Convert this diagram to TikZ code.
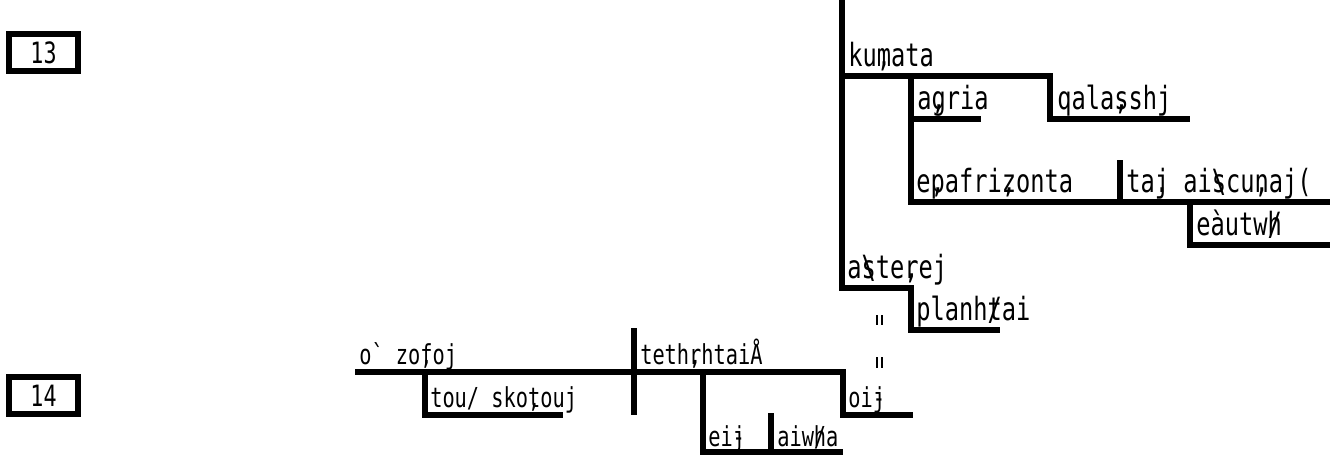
\documentclass[tikz,border=0pt]{standalone}
\usepackage{fontspec}
\newfontfamily\gr{DejaVu Sans Mono}[FakeStretch=0.74]
\newcommand\ovm[1]{\makebox[0pt][l]{#1}}
\begin{document}
\begin{tikzpicture}[x=0.75pt,y=-0.75pt,
  ln/.style={line width=4.5pt},
  bars/.style={line width=1.5pt},
  lbl/.style={inner sep=0pt,anchor=base west,font=\gr\fontsize{24pt}{28pt}\selectfont},
  lblb/.style={lbl,font=\gr\fontsize{20.6pt}{24pt}\selectfont},
  numbox/.style={draw,line width=4.5pt,minimum width=51.75pt,minimum height=27.75pt,inner sep=0pt,font=\gr\fontsize{22pt}{26pt}\selectfont}]
\useasboundingbox (0,0) rectangle (1330,455);
% verse numbers
\node[numbox] (n13) at (43.5,52.5) {13};
\node[numbox] (n14) at (43.5,395.5) {14};
% ---- verse 13 ----
\coordinate (top) at (842,0);
\draw[ln] (top) -- (842,288) -- (911,288) -- (911,330) -- (1000,330);
\draw[ln] (842,76) -- (1050,76) -- (1050,119) -- (1190,119);
\draw[ln] (911,76) -- (911,202) -- (1330,202);
\draw[ln] (911,119) -- (981,119);
\draw[ln] (1120,160) -- (1120,202);
\draw[ln] (1190,202) -- (1190,245) -- (1330,245);
\node[lbl] (kumata) at (848,66) {ku\ovm{,}mata};
\node[lbl] (agria) at (917,109) {a\ovm{,}gria};
\node[lbl] (qal) at (1057,109) {qala\ovm{,}sshj};
\node[lbl] (epa) at (916,192) {e\ovm{,}pafri\ovm{,}zonta};
\node[lbl] (taj) at (1126,192) {ta\ovm{.}j ai\ovm{\textbackslash}scu\ovm{,}naj(};
\node[lbl] (eau) at (1196,235) {e\ovm{`}autw\ovm{/}h};
\node[lbl] (ast) at (847,278) {a\ovm{\textbackslash}ste\ovm{,}rej};
\node[lbl] (pla) at (916,320) {planh\ovm{/}tai};
% equality marks
\draw[bars] (877,315) -- (877,325) (882,315) -- (882,325);
\draw[bars] (877,357) -- (877,368) (882,357) -- (882,368);
% ---- verse 14 ----
\draw[ln] (355,372) -- (843,372) -- (843,415) -- (913,415);
\draw[ln] (425,372) -- (425,415) -- (563,415);
\draw[ln] (634,328) -- (634,415);
\draw[ln] (703,372) -- (703,452) -- (843,452);
\draw[ln] (771,413) -- (771,452);
\node[lblb] (zofoj) at (359,364) {o` zo\ovm{,}foj};
\node[lblb] (teth) at (640,364) {teth\ovm{,}rhtaiÅ};
\node[lblb] (tou) at (430,407) {tou/ sko\ovm{,}touj};
\node[lblb] (oij) at (848,407) {oi\ovm{-}j};
\node[lblb] (eij) at (708,446) {ei\ovm{-}j};
\node[lblb] (aiwha) at (777,446) {aiw\ovm{/}ha};
\end{tikzpicture}
\end{document}
